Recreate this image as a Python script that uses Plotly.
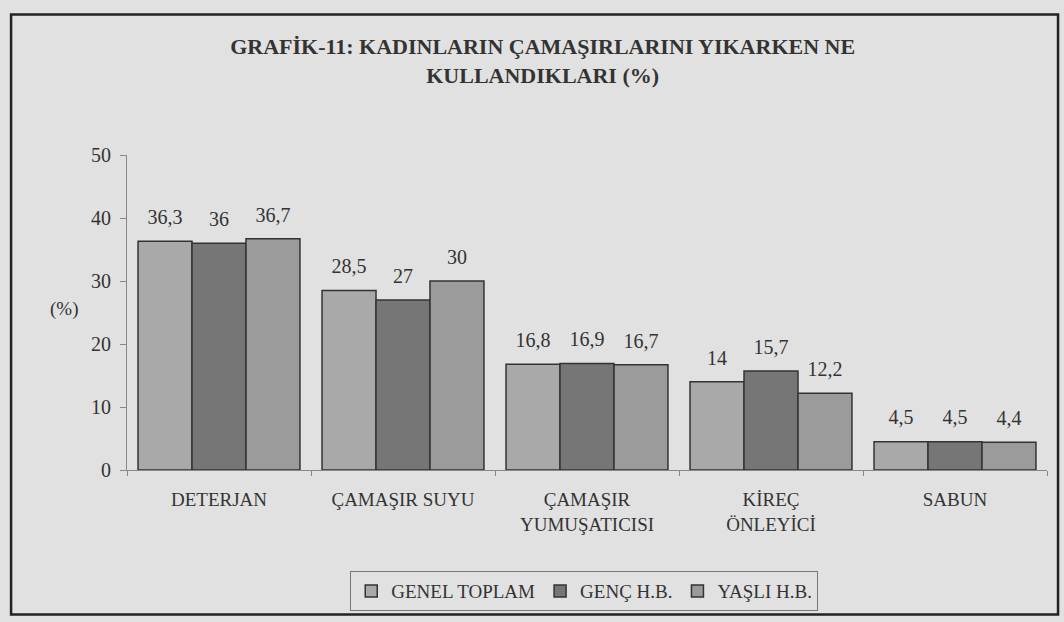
import plotly.graph_objects as go

categories = ["DETERJAN", "ÇAMAŞIR SUYU", "ÇAMAŞIR<br>YUMUŞATICISI", "KİREÇ<br>ÖNLEYİCİ", "SABUN"]
genel_toplam = [36.3, 28.5, 16.8, 14.0, 4.5]
genc_hb = [36.0, 27.0, 16.9, 15.7, 4.5]
yasli_hb = [36.7, 30.0, 16.7, 12.2, 4.4]
series_names = ["GENEL TOPLAM", "GENÇ H.B.", "YAŞLI H.B."]
series_colors = ["#a9a9a9", "#767676", "#9b9b9b"]
y_ticks = [0, 10, 20, 30, 40, 50]

SERIF = "Liberation Serif"
BG = "#e1e1e1"
TXT = "#333333"


def fmt(v):
    return f"{v:g}".replace(".", ",")


fig = go.Figure()
all_series = [genel_toplam, genc_hb, yasli_hb]
for i, (name, vals, col) in enumerate(zip(series_names, all_series, series_colors)):
    fig.add_trace(go.Bar(
        name=name, x=categories, y=vals, offsetgroup=str(i),
        marker=dict(color=col, line=dict(color="#333333", width=1.5)),
    ))
for i, vals in enumerate(all_series):
    fig.add_trace(go.Scatter(
        x=categories, y=vals, offsetgroup=str(i), mode="markers+text",
        marker=dict(size=18, opacity=0), showlegend=False, hoverinfo="skip",
        text=[fmt(v) for v in vals], textposition="top center", cliponaxis=False,
        textfont=dict(family=SERIF, size=20, color=TXT),
    ))

fig.update_layout(
    width=1064, height=622,
    paper_bgcolor=BG, plot_bgcolor=BG,
    margin=dict(l=127, r=17, t=155, b=151),
    barmode="group", bargap=0.12, bargroupgap=0,
    scattermode="group", scattergap=0.12,
    font=dict(family=SERIF, color=TXT),
    title=dict(
        text="<b>GRAFİK-11: KADINLARIN ÇAMAŞIRLARINI YIKARKEN NE<br>KULLANDIKLARI (%)</b>",
        x=0.51, xanchor="center", y=0.913, yanchor="top",
        font=dict(family=SERIF, size=22, color=TXT),
    ),
    showlegend=True,
    legend=dict(
        orientation="h", x=0.497, xanchor="center", y=-0.38, yanchor="middle",
        font=dict(family=SERIF, size=19, color=TXT),
        bgcolor=BG, bordercolor="#777777", borderwidth=1,
        itemwidth=30, traceorder="normal",
    ),
    xaxis=dict(
        showline=True, linecolor="#888888", linewidth=1,
        ticks="outside", ticklen=5, tickcolor="#888888", tickson="boundaries",
        tickfont=dict(family=SERIF, size=19, color=TXT),
        ticklabelstandoff=12,
        showgrid=False,
    ),
    yaxis=dict(
        range=[0, 50], tickvals=y_ticks,
        showline=True, linecolor="#888888", linewidth=1,
        ticks="outside", ticklen=6, tickcolor="#888888",
        tickfont=dict(family=SERIF, size=20, color=TXT),
        ticklabelstandoff=5,
        showgrid=False, zeroline=False,
    ),
    shapes=[dict(
        type="rect", xref="paper", yref="paper",
        x0=-0.126, x1=1.012, y0=-0.459, y1=1.446,
        line=dict(color="#222222", width=2.5),
    )],
    annotations=[dict(
        text="(%)", xref="paper", yref="paper", x=-0.051, y=0.51,
        xanchor="right", yanchor="middle", showarrow=False,
        font=dict(family=SERIF, size=19, color=TXT),
    )],
)

fig.write_html(
    "out.html",
    config={"displayModeBar": False},
    post_script="document.body.style.margin='0';document.body.style.overflow='hidden';",
)
